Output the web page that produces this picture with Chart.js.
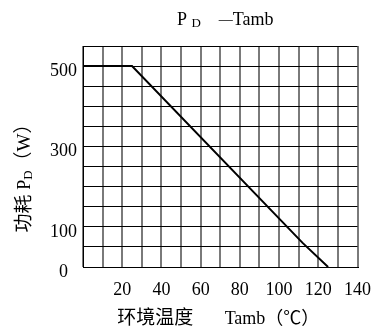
<!DOCTYPE html>
<html lang="zh">
<head>
<meta charset="UTF-8">
<title>PD - Tamb</title>
<script src="https://cdn.jsdelivr.net/npm/chart.js"></script>
<style>
  html, body { margin: 0; padding: 0; background: #fff; }
  #wrap { width: 383px; height: 331px; position: relative; }
</style>
</head>
<body>
<div id="wrap"><canvas id="myChart"></canvas></div>
<script>
// datos
const tempC = [0, 25, 112, 125];
const powerW = [500, 500, 60, 0];
const xTickLabels = [20, 40, 60, 80, 100, 120, 140];
const yTickLabels = [0, 100, 300, 500];

const FONT = '"Liberation Serif", "Noto Sans CJK SC", serif';

function piecesWidth(ctx, pieces) {
  let w = 0;
  pieces.forEach(p => {
    ctx.font = p.s + 'px ' + FONT;
    w += ctx.measureText(p.t).width;
  });
  return w;
}

function drawPieces(ctx, pieces, cx, cy) {
  let x = cx - piecesWidth(ctx, pieces) / 2;
  pieces.forEach(p => {
    ctx.font = p.s + 'px ' + FONT;
    ctx.fillText(p.t, x, cy + (p.dy || 0));
    x += ctx.measureText(p.t).width;
  });
}

const titlesPlugin = {
  id: 'titles',
  afterDraw(chart) {
    const ctx = chart.ctx;
    const area = chart.chartArea;
    ctx.save();
    ctx.fillStyle = '#000';
    ctx.textAlign = 'left';
    ctx.textBaseline = 'middle';

    // titulo superior
    drawPieces(ctx, [
      { t: 'P ', s: 18 },
      { t: 'D', s: 13, dy: 4 },
      { t: '    ', s: 18 },
      { t: '\u2014', s: 14 },
      { t: 'Tamb', s: 18 }
    ], (area.left + area.right) / 2 + 5, 20);

    // titulo eje y
    ctx.save();
    ctx.translate(25, area.top + (area.bottom - area.top) / 2 + 17);
    ctx.rotate(-Math.PI / 2);
    drawPieces(ctx, [
      { t: '功耗 ', s: 19 },
      { t: 'P', s: 18 },
      { t: 'D', s: 13, dy: 4 },
      { t: '（W）', s: 19 }
    ], 0, 0);
    ctx.restore();

    // titulo eje x
    drawPieces(ctx, [
      { t: '环境温度', s: 19 },
      { t: '       Tamb', s: 18 },
      { t: '（℃）', s: 18 }
    ], (area.left + area.right) / 2 - 2, 319);

    ctx.restore();
  }
};

const ctx = document.getElementById('myChart').getContext('2d');
const chart = new Chart(ctx, {
  type: 'line',
  data: {
    datasets: [{
      label: 'PD',
      data: tempC.map((t, i) => ({ x: t, y: powerW[i] })),
      borderColor: '#000',
      borderWidth: 2,
      pointRadius: 0,
      tension: 0,
      fill: false
    }]
  },
  options: {
    responsive: true,
    maintainAspectRatio: false,
    animation: false,
    layout: { padding: { top: 46, right: 20, left: 0, bottom: 0 } },
    plugins: {
      legend: { display: false },
      title: { display: false },
      tooltip: { enabled: false }
    },
    scales: {
      x: {
        type: 'linear',
        min: 0,
        max: 140,
        afterFit(scale) { scale.height = 64; },
        ticks: {
          stepSize: 10,
          autoSkip: false,
          maxRotation: 0,
          padding: 12,
          color: '#000',
          font: { family: FONT, size: 18 },
          callback: v => xTickLabels.includes(v) ? String(v) : ''
        },
        grid: { color: '#7a7a7a', lineWidth: 2, drawTicks: false },
        border: { display: true, color: '#000', width: 1 }
      },
      y: {
        min: 0,
        max: 550,
        afterFit(scale) { scale.width = 83; },
        ticks: {
          stepSize: 50,
          autoSkip: false,
          padding: 6,
          labelOffset: 5,
          color: '#000',
          font: { family: FONT, size: 18 },
          callback: v => yTickLabels.includes(v) ? (v === 0 ? '0  ' : String(v)) : ''
        },
        grid: { color: '#000', lineWidth: 1, drawTicks: false },
        border: { display: true, color: '#000', width: 1 }
      }
    }
  },
  plugins: [titlesPlugin]
});
</script>
</body>
</html>
